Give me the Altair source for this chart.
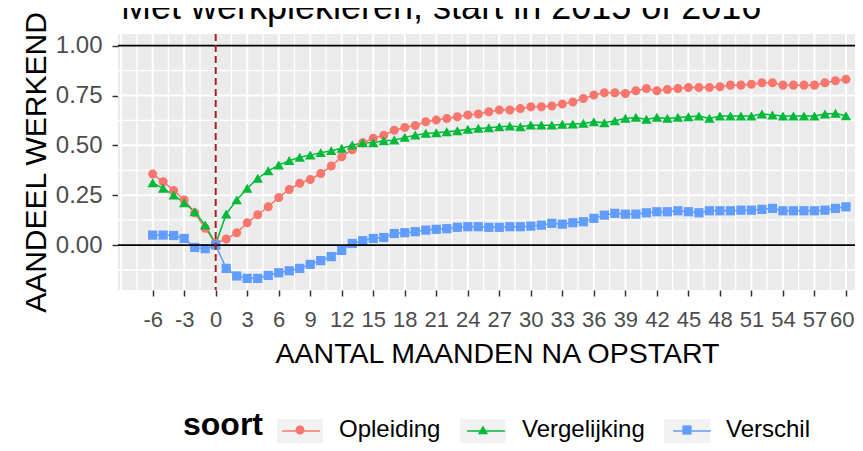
import altair as alt
import pandas as pd
import numpy as np

FONT = "Liberation Sans"

titel = "Met werkplekleren, start in 2015 of 2016"
x_titel = "AANTAL MAANDEN NA OPSTART"
y_titel = "AANDEEL WERKEND"
legend_titel = "soort"

maanden = list(range(-6, 61))
soorten = ["Opleiding", "Vergelijking", "Verschil"]
kleuren = ["#F8766D", "#00BA38", "#619CFF"]

opleiding = [0.356, 0.317, 0.274, 0.226, 0.162, 0.084, 0.010,
             0.030, 0.062, 0.112, 0.152, 0.192, 0.239, 0.279, 0.310, 0.329, 0.359,
             0.396, 0.443, 0.478, 0.513, 0.535, 0.551, 0.576, 0.590, 0.600, 0.618,
             0.627, 0.635, 0.643, 0.652, 0.657, 0.668, 0.677, 0.677, 0.685, 0.693,
             0.693, 0.697, 0.707, 0.718, 0.735, 0.752, 0.764, 0.764, 0.760, 0.774,
             0.785, 0.774, 0.780, 0.785, 0.790, 0.790, 0.790, 0.794, 0.802, 0.802,
             0.807, 0.814, 0.814, 0.802, 0.802, 0.802, 0.802, 0.814, 0.824, 0.832]

vergelijking = [0.312, 0.284, 0.251, 0.212, 0.167, 0.100, 0.005,
                0.155, 0.226, 0.284, 0.334, 0.372, 0.401, 0.423, 0.440, 0.451, 0.463,
                0.473, 0.485, 0.501, 0.513, 0.513, 0.523, 0.526, 0.540, 0.551, 0.560,
                0.563, 0.568, 0.573, 0.580, 0.585, 0.588, 0.593, 0.596, 0.593, 0.601,
                0.601, 0.601, 0.605, 0.607, 0.610, 0.618, 0.613, 0.623, 0.635, 0.640,
                0.630, 0.640, 0.635, 0.640, 0.643, 0.647, 0.635, 0.647, 0.647, 0.647,
                0.647, 0.657, 0.652, 0.647, 0.647, 0.647, 0.647, 0.657, 0.660, 0.648]

verschil = [0.050, 0.050, 0.048, 0.033, -0.012, -0.018, 0.000,
            -0.117, -0.155, -0.167, -0.167, -0.152, -0.139, -0.129, -0.117, -0.097, -0.078,
            -0.058, -0.027, 0.008, 0.022, 0.033, 0.038, 0.058, 0.062, 0.067, 0.075,
            0.079, 0.082, 0.089, 0.092, 0.092, 0.089, 0.089, 0.092, 0.092, 0.095,
            0.100, 0.109, 0.105, 0.112, 0.117, 0.134, 0.150, 0.159, 0.155, 0.155,
            0.162, 0.167, 0.167, 0.172, 0.167, 0.162, 0.172, 0.172, 0.172, 0.175,
            0.175, 0.179, 0.184, 0.172, 0.172, 0.172, 0.172, 0.175, 0.184, 0.192]

x_ticks = list(range(-6, 61, 3))
y_ticks = [0.0, 0.25, 0.5, 0.75, 1.0]
x_grid_major = list(range(-9, 64, 3))
x_grid_minor = [v + 1.5 for v in range(-9, 63, 3)]
y_grid_major = [0.25, 0.5, 0.75]
y_grid_minor = [-0.125, 0.125, 0.375, 0.625, 0.875]
ref_h = [0.0, 1.0]
ref_v = [0]

rows = []
for naam, reeks in zip(soorten, [opleiding, vergelijking, verschil]):
    for m, v in zip(maanden, reeks):
        rows.append({"maand": m, "waarde": v, "soort": naam})
df = pd.DataFrame(rows)
df["soort_l"] = df["soort"]
df["soort_b"] = df["soort"]

xs = alt.Scale(domain=[-9.3, 60.86], nice=False, zero=False)
ys = alt.Scale(domain=[-0.2253, 1.0584], nice=False, zero=False)

x_axis = alt.Axis(values=x_ticks, labelExpr="'' + datum.value", grid=False, domain=False,
                  tickColor="#333333", tickSize=6, tickWidth=1.5,
                  labelFont=FONT, labelFontSize=22, labelColor="#4D4D4D",
                  labelBaseline="alphabetic", labelPadding=30,
                  labelFlush=12, labelFlushOffset=8, labelOverlap=False,
                  title=x_titel, titleFont=FONT, titleFontSize=28.5, titleFontWeight="normal",
                  titleColor="black", titleX=379, titleY=72, titleBaseline="alphabetic",
                  titleAlign="center")
y_axis = alt.Axis(values=y_ticks, format=".2f", grid=False, domain=False,
                  tickColor="#333333", tickSize=6, tickWidth=1.5,
                  labelFont=FONT, labelFontSize=24, labelColor="#4D4D4D", labelPadding=10,
                  labelFlush=False, labelOverlap=False,
                  title=y_titel, titleFont=FONT, titleFontSize=30, titleFontWeight="normal",
                  titleColor="black", titleX=-73, titleY=128, titleAngle=270,
                  titleBaseline="alphabetic", titleAlign="center")

X = lambda f: alt.X(f, scale=xs, axis=x_axis)
Y = lambda f: alt.Y(f, scale=ys, axis=y_axis)

leg_common = dict(orient="none", legendX=65, legendY=373, direction="horizontal",
                  title=legend_titel, titleOrient="left", titleFont=FONT, titleFontSize=32,
                  titleFontWeight="bold", titleColor="black", titlePadding=14,
                  titleBaseline="middle", titleAnchor="middle",
                  labelFont=FONT, labelFontSize=24, labelColor="black", labelOffset=16,
                  columnPadding=19, symbolSize=2116, padding=0)

shape_paths = [
    "M0.196,0A0.196,0.196,0,1,1,-0.196,0A0.196,0.196,0,1,1,0.196,0Z",
    "M0,-0.2L0.226,0.19L-0.226,0.19Z",
    "M-0.2,-0.2H0.2V0.2H-0.2Z",
]

gvmin = alt.Chart(pd.DataFrame({"gx": x_grid_minor})).mark_rule(
    color="white", strokeWidth=1.3).encode(x=X("gx:Q"))
gvmaj = alt.Chart(pd.DataFrame({"gx": x_grid_major})).mark_rule(
    color="white", strokeWidth=2).encode(x=X("gx:Q"))
ghmin = alt.Chart(pd.DataFrame({"gy": y_grid_minor})).mark_rule(
    color="white", strokeWidth=1.3).encode(y=Y("gy:Q"))
ghmaj = alt.Chart(pd.DataFrame({"gy": y_grid_major})).mark_rule(
    color="white", strokeWidth=2).encode(y=Y("gy:Q"))

base = alt.Chart(df)

boxes = base.mark_point(filled=True, opacity=0, size=4).encode(
    x=X("maand:Q"),
    y=Y("waarde:Q"),
    fill=alt.Fill("soort_b:N", scale=alt.Scale(range=["#F2F2F2", "#F2F2F2", "#F2F2F2"]),
                  legend=alt.Legend(symbolType="M-1,-0.48H1V1.3H-1Z", symbolStrokeWidth=0,
                                    symbolOpacity=1, titleOpacity=0, labelOpacity=0,
                                    **leg_common)),
)

lines = base.mark_line(strokeWidth=1.5, clip=True).encode(
    x=X("maand:Q"),
    y=Y("waarde:Q"),
    stroke=alt.Stroke("soort_l:N", scale=alt.Scale(range=kleuren),
                      legend=alt.Legend(symbolType="M-0.82,0H0.82", symbolStrokeWidth=1.5,
                                        titleOpacity=0, labelOpacity=0, **leg_common)),
)

shape_legend = alt.Legend(symbolStrokeWidth=0, **leg_common)
points = base.mark_point(filled=True, opacity=1, size=2116, clip=True).encode(
    x=X("maand:Q"),
    y=Y("waarde:Q"),
    color=alt.Color("soort:N", scale=alt.Scale(range=kleuren), legend=shape_legend),
    shape=alt.Shape("soort:N", scale=alt.Scale(range=shape_paths), legend=shape_legend),
)

hlines = alt.Chart(pd.DataFrame({"ry": ref_h})).mark_rule(
    color="black", strokeWidth=1.8).encode(y=Y("ry:Q"))
vline = alt.Chart(pd.DataFrame({"rx": ref_v})).mark_rule(
    color="#A31F1F", strokeWidth=2, strokeDash=[7, 4]).encode(x=X("rx:Q"))

chart = alt.layer(gvmin, gvmaj, ghmin, ghmaj, boxes, lines, points, hlines, vline).properties(
    width=737, height=256,
    padding={"left": 110, "top": 26, "right": 0, "bottom": 153},
    autosize=alt.AutoSizeParams(type="none"),
    title=alt.TitleParams(titel, anchor="start", frame="group", fontSize=36, font=FONT,
                          fontWeight="normal", color="black", baseline="alphabetic",
                          offset=0, dy=44, dx=3),
).configure(font=FONT).configure_view(fill="#EBEBEB", strokeWidth=0)

chart.save("out.html", embed_options={"renderer": "svg", "actions": False})
